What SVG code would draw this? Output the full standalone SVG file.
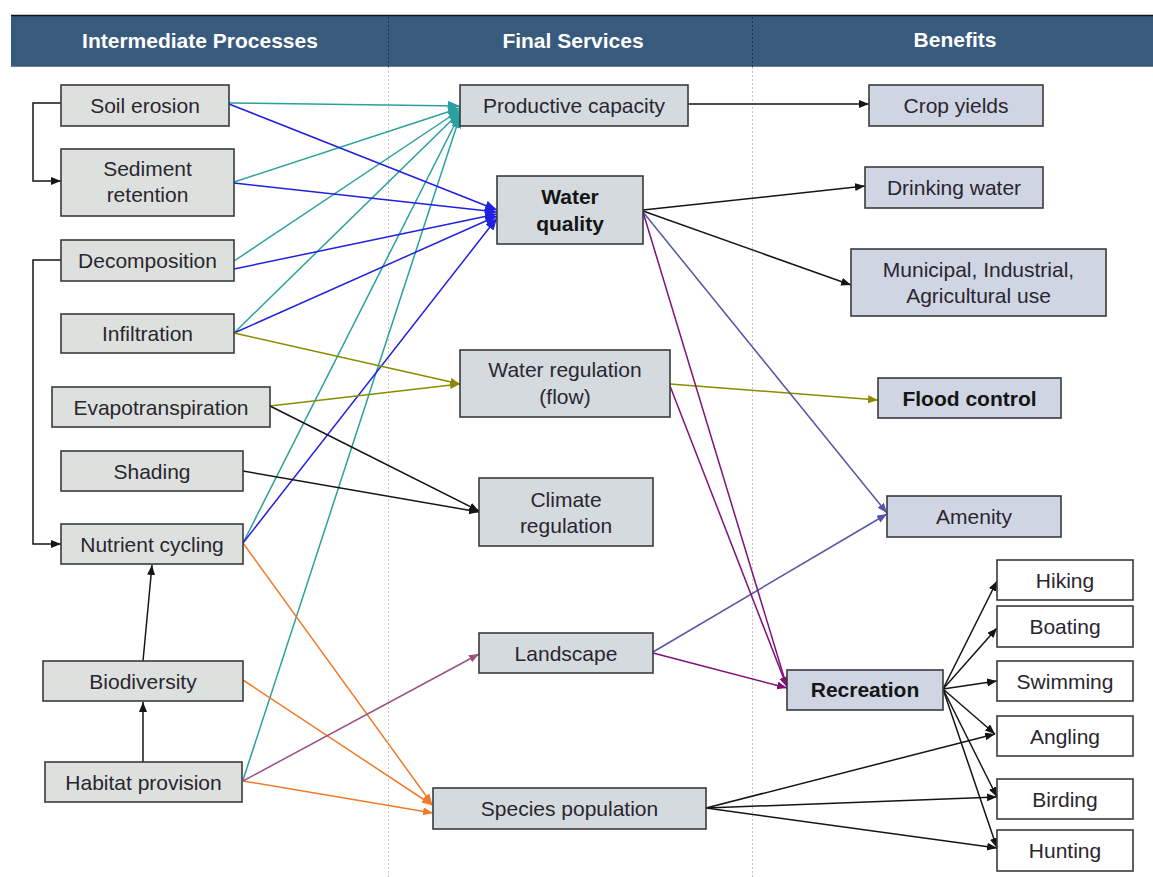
<svg xmlns="http://www.w3.org/2000/svg" width="1153" height="877" viewBox="0 0 1153 877">
<defs>
<style>
.hdr{font-family:"Liberation Sans",Arial,sans-serif;font-size:21px;font-weight:bold;fill:#ffffff;text-anchor:middle}
.t{font-family:"Liberation Sans",Arial,sans-serif;font-size:21px;fill:#2a2630;text-anchor:middle}
.b{font-weight:bold;fill:#151515}
.nl rect{fill:#dde1de;stroke:#3a3a3a;stroke-width:1.6}
.nm rect{fill:#d5dadf;stroke:#3a3a3a;stroke-width:1.6}
.nr rect{fill:#cfd5e2;stroke:#3a3a3a;stroke-width:1.6}
.nw rect{fill:#ffffff;stroke:#3a3a3a;stroke-width:1.6}
.c line,.c polyline{fill:none;stroke-width:1.5}
.k{stroke:#151515}
.teal{stroke:#2aa09e}
.blue{stroke:#2020e0}
.olive{stroke:#8a8a00}
.orange{stroke:#f07a2a}
.mauve{stroke:#9a4f80}
.slate{stroke:#5555a8}
.purple{stroke:#80107a}
</style>
<marker id="ak" markerUnits="userSpaceOnUse" markerWidth="11" markerHeight="9" refX="10" refY="4" orient="auto"><path d="M0,0 L10,4 L0,8 z" fill="#151515"/></marker>
<marker id="at" markerUnits="userSpaceOnUse" markerWidth="13" markerHeight="11" refX="12" refY="5" orient="auto"><path d="M0,0 L12,5 L0,10 z" fill="#2aa09e"/></marker>
<marker id="ab" markerUnits="userSpaceOnUse" markerWidth="13" markerHeight="11" refX="12" refY="5" orient="auto"><path d="M0,0 L12,5 L0,10 z" fill="#2020e0"/></marker>
<marker id="ao" markerUnits="userSpaceOnUse" markerWidth="11" markerHeight="9" refX="10" refY="4" orient="auto"><path d="M0,0 L10,4 L0,8 z" fill="#8a8a00"/></marker>
<marker id="aor" markerUnits="userSpaceOnUse" markerWidth="11" markerHeight="9" refX="10" refY="4" orient="auto"><path d="M0,0 L10,4 L0,8 z" fill="#f07a2a"/></marker>
<marker id="am" markerUnits="userSpaceOnUse" markerWidth="11" markerHeight="9" refX="10" refY="4" orient="auto"><path d="M0,0 L10,4 L0,8 z" fill="#9a4f80"/></marker>
<marker id="as" markerUnits="userSpaceOnUse" markerWidth="11" markerHeight="9" refX="10" refY="4" orient="auto"><path d="M0,0 L10,4 L0,8 z" fill="#5555a8"/></marker>
<marker id="ap" markerUnits="userSpaceOnUse" markerWidth="11" markerHeight="9" refX="10" refY="4" orient="auto"><path d="M0,0 L10,4 L0,8 z" fill="#80107a"/></marker>
</defs>
<rect width="1153" height="877" fill="#ffffff"/>
<g id="header">
<rect x="11" y="15" width="1142" height="52" fill="#385a7d"/>
<line x1="11" y1="15.5" x2="1153" y2="15.5" stroke="#111" stroke-width="1.5"/>
<line x1="11" y1="66.5" x2="1153" y2="66.5" stroke="#6d7f92" stroke-width="1"/>
<text class="hdr" x="200" y="48">Intermediate Processes</text>
<text class="hdr" x="573" y="48">Final Services</text>
<text class="hdr" x="955" y="47">Benefits</text>
</g>
<g id="separators" stroke-dasharray="2,2" stroke-width="1">
<line x1="388.5" y1="17" x2="388.5" y2="67" stroke="#20324a"/>
<line x1="752.5" y1="17" x2="752.5" y2="67" stroke="#20324a"/>
<line x1="388.5" y1="67" x2="388.5" y2="877" stroke="#c4c4c4"/>
<line x1="752.5" y1="67" x2="752.5" y2="877" stroke="#c4c4c4"/>
</g>
<g id="connectors" class="c">
<polyline class="k" points="61,103 33,103 33,181 61,181" marker-end="url(#ak)"/>
<polyline class="k" points="61,260 33,260 33,544 61,544" marker-end="url(#ak)"/>
<line class="k" x1="143" y1="661" x2="152" y2="565" marker-end="url(#ak)"/>
<line class="k" x1="143" y1="762" x2="143" y2="702" marker-end="url(#ak)"/>
<line class="teal" x1="229" y1="103" x2="460" y2="106" marker-end="url(#at)"/>
<line class="teal" x1="234" y1="182" x2="460" y2="108" marker-end="url(#at)"/>
<line class="teal" x1="234" y1="261" x2="460" y2="110" marker-end="url(#at)"/>
<line class="teal" x1="234" y1="333" x2="460" y2="112" marker-end="url(#at)"/>
<line class="teal" x1="243" y1="543" x2="460" y2="114" marker-end="url(#at)"/>
<line class="teal" x1="243" y1="780" x2="460" y2="116" marker-end="url(#at)"/>
<line class="blue" x1="229" y1="104" x2="497" y2="210" marker-end="url(#ab)"/>
<line class="blue" x1="234" y1="183" x2="497" y2="212" marker-end="url(#ab)"/>
<line class="blue" x1="234" y1="269" x2="497" y2="214" marker-end="url(#ab)"/>
<line class="blue" x1="234" y1="333" x2="497" y2="216" marker-end="url(#ab)"/>
<line class="blue" x1="243" y1="543" x2="497" y2="218" marker-end="url(#ab)"/>
<line class="olive" x1="234" y1="333" x2="460" y2="384" marker-end="url(#ao)"/>
<line class="olive" x1="270" y1="406" x2="460" y2="384" marker-end="url(#ao)"/>
<line class="k" x1="270" y1="406" x2="479" y2="511" marker-end="url(#ak)"/>
<line class="k" x1="243" y1="471" x2="479" y2="512" marker-end="url(#ak)"/>
<line class="orange" x1="243" y1="543" x2="432" y2="804" marker-end="url(#aor)"/>
<line class="orange" x1="243" y1="680" x2="432" y2="805" marker-end="url(#aor)"/>
<line class="orange" x1="243" y1="781" x2="433" y2="813" marker-end="url(#aor)"/>
<line class="mauve" x1="243" y1="781" x2="479" y2="654" marker-end="url(#am)"/>
<line class="k" x1="688" y1="104" x2="869" y2="104" marker-end="url(#ak)"/>
<line class="k" x1="643" y1="210" x2="865" y2="186" marker-end="url(#ak)"/>
<line class="k" x1="643" y1="211" x2="851" y2="285" marker-end="url(#ak)"/>
<line class="olive" x1="670" y1="384" x2="878" y2="400" marker-end="url(#ao)"/>
<line class="slate" x1="643" y1="212" x2="887" y2="513" marker-end="url(#as)"/>
<line class="slate" x1="653" y1="652" x2="887" y2="514" marker-end="url(#as)"/>
<line class="purple" x1="643" y1="212" x2="787" y2="687" marker-end="url(#ap)"/>
<line class="purple" x1="670" y1="386" x2="787" y2="687" marker-end="url(#ap)"/>
<line class="purple" x1="653" y1="653" x2="787" y2="688" marker-end="url(#ap)"/>
<line class="k" x1="943" y1="689" x2="997" y2="581" marker-end="url(#ak)"/>
<line class="k" x1="943" y1="689" x2="997" y2="628" marker-end="url(#ak)"/>
<line class="k" x1="943" y1="689" x2="997" y2="681" marker-end="url(#ak)"/>
<line class="k" x1="943" y1="689" x2="995" y2="734" marker-end="url(#ak)"/>
<line class="k" x1="943" y1="689" x2="997" y2="797" marker-end="url(#ak)"/>
<line class="k" x1="943" y1="689" x2="997" y2="848" marker-end="url(#ak)"/>
<line class="k" x1="706" y1="808" x2="995" y2="734" marker-end="url(#ak)"/>
<line class="k" x1="706" y1="808" x2="997" y2="797" marker-end="url(#ak)"/>
<line class="k" x1="706" y1="808" x2="997" y2="848" marker-end="url(#ak)"/>
</g>
<g id="soil-erosion" class="nl"><rect x="61" y="85" width="168" height="41"/><text class="t" x="145" y="113">Soil erosion</text></g>
<g id="sediment-retention" class="nl"><rect x="61" y="149" width="173" height="67"/><text class="t" x="147.5" y="176">Sediment</text><text class="t" x="147.5" y="202">retention</text></g>
<g id="decomposition" class="nl"><rect x="61" y="240" width="173" height="41"/><text class="t" x="147.5" y="268">Decomposition</text></g>
<g id="infiltration" class="nl"><rect x="61" y="314" width="173" height="39"/><text class="t" x="147.5" y="341">Infiltration</text></g>
<g id="evapotranspiration" class="nl"><rect x="52" y="387" width="218" height="40"/><text class="t" x="161" y="415">Evapotranspiration</text></g>
<g id="shading" class="nl"><rect x="61" y="451" width="182" height="40"/><text class="t" x="152" y="479">Shading</text></g>
<g id="nutrient-cycling" class="nl"><rect x="61" y="524" width="182" height="40"/><text class="t" x="152" y="552">Nutrient cycling</text></g>
<g id="biodiversity" class="nl"><rect x="43" y="661" width="200" height="40"/><text class="t" x="143" y="689">Biodiversity</text></g>
<g id="habitat-provision" class="nl"><rect x="45" y="762" width="197" height="40"/><text class="t" x="143.5" y="790">Habitat provision</text></g>
<g id="productive-capacity" class="nm"><rect x="460" y="85" width="228" height="41"/><text class="t" x="574" y="113">Productive capacity</text></g>
<g id="water-quality" class="nm"><rect x="497" y="176" width="146" height="68"/><text class="t b" x="570" y="204">Water</text><text class="t b" x="570" y="231">quality</text></g>
<g id="water-regulation" class="nm"><rect x="460" y="350" width="210" height="67"/><text class="t" x="565" y="377">Water regulation</text><text class="t" x="565" y="404">(flow)</text></g>
<g id="climate-regulation" class="nm"><rect x="479" y="478" width="174" height="68"/><text class="t" x="566" y="507">Climate</text><text class="t" x="566" y="533">regulation</text></g>
<g id="landscape" class="nm"><rect x="479" y="633" width="174" height="40"/><text class="t" x="566" y="661">Landscape</text></g>
<g id="species-population" class="nm"><rect x="433" y="788" width="273" height="41"/><text class="t" x="569.5" y="816">Species population</text></g>
<g id="crop-yields" class="nr"><rect x="869" y="85" width="174" height="41"/><text class="t" x="956" y="113">Crop yields</text></g>
<g id="drinking-water" class="nr"><rect x="865" y="167" width="178" height="41"/><text class="t" x="954" y="195">Drinking water</text></g>
<g id="municipal-use" class="nr"><rect x="851" y="249" width="255" height="67"/><text class="t" x="978.5" y="277">Municipal, Industrial,</text><text class="t" x="978.5" y="303">Agricultural use</text></g>
<g id="flood-control" class="nr"><rect x="878" y="378" width="183" height="40"/><text class="t b" x="969.5" y="406">Flood control</text></g>
<g id="amenity" class="nr"><rect x="887" y="496" width="174" height="41"/><text class="t" x="974" y="524">Amenity</text></g>
<g id="recreation" class="nr"><rect x="787" y="670" width="156" height="40"/><text class="t b" x="865" y="697">Recreation</text></g>
<g id="hiking" class="nw"><rect x="997" y="560" width="136" height="40"/><text class="t" x="1065" y="588">Hiking</text></g>
<g id="boating" class="nw"><rect x="997" y="606" width="136" height="41"/><text class="t" x="1065" y="634">Boating</text></g>
<g id="swimming" class="nw"><rect x="997" y="661" width="136" height="40"/><text class="t" x="1065" y="689">Swimming</text></g>
<g id="angling" class="nw"><rect x="997" y="716" width="136" height="40"/><text class="t" x="1065" y="744">Angling</text></g>
<g id="birding" class="nw"><rect x="997" y="779" width="136" height="40"/><text class="t" x="1065" y="807">Birding</text></g>
<g id="hunting" class="nw"><rect x="997" y="830" width="136" height="41"/><text class="t" x="1065" y="858">Hunting</text></g>
</svg>
